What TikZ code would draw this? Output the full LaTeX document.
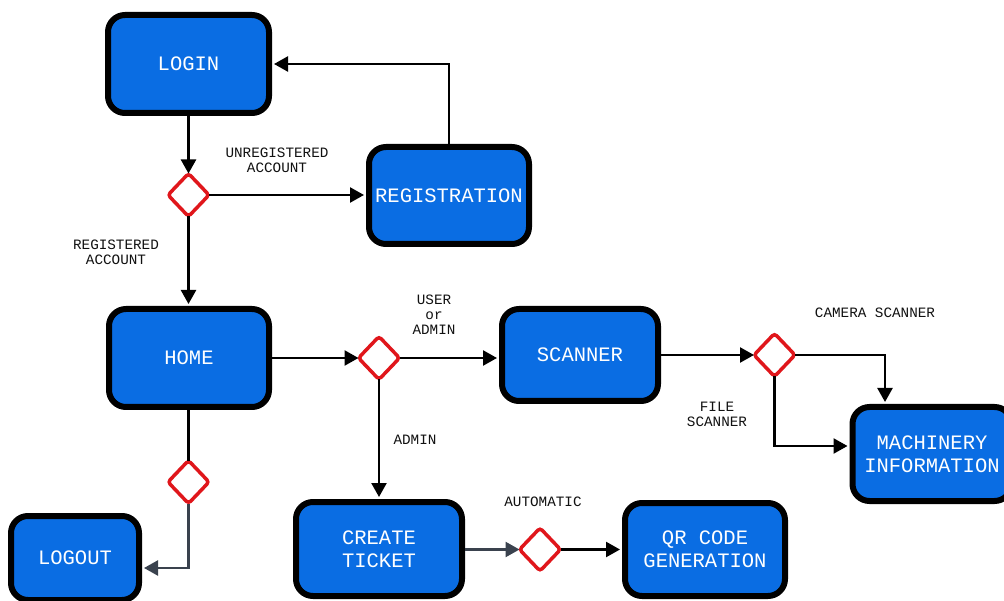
\documentclass[tikz,border=0pt]{standalone}
\usepackage{fontspec}
\setmonofont{Liberation Mono}
\usetikzlibrary{arrows.meta,shapes.geometric}
\definecolor{boxblue}{HTML}{0A6DE3}
\definecolor{gateRed}{HTML}{E0161B}
\definecolor{slate}{HTML}{3A424E}
\definecolor{ink}{HTML}{111111}
\tikzset{
  stepbox/.style={draw=black, line width=6pt, fill=boxblue, rounded corners=17pt,
    text=white, font=\ttfamily\fontsize{20.5}{23}\selectfont, align=center, inner sep=0pt},
  gate/.style={diamond, draw=gateRed, line width=3.5pt, fill=white, rounded corners=3pt,
    minimum width=41pt, minimum height=43pt, inner sep=0pt, outer sep=0pt},
  flow/.style={line width=2.4pt, -{Triangle[length=14pt,width=15pt]}},
  tobox/.style={flow, shorten >=2pt},
  plain/.style={line width=2.4pt},
  tag/.style={text=ink, font=\ttfamily\fontsize{14.3}{15}\selectfont, align=center, inner sep=0pt}
}
\begin{document}
\begin{tikzpicture}[x=1pt,y=-1pt]
\useasboundingbox[fill=white] (0,0) rectangle (1004,601);

% process boxes
\node[stepbox, minimum width=161pt, minimum height=98pt] (login) at (188.5,64) {LOGIN};
\node[stepbox, minimum width=160pt, minimum height=97pt] (reg) at (449,195.5) {REGISTRATION};
\node[stepbox, minimum width=160pt, minimum height=98pt] (home) at (189,358) {HOME};
\node[stepbox, minimum width=156pt, minimum height=92pt] (scanner) at (580,355) {SCANNER};
\node[stepbox, minimum width=159pt, minimum height=94pt] (mach) at (932,454) {MACHINERY\\INFORMATION};
\node[stepbox, minimum width=128pt, minimum height=84pt] (logout) at (75,558) {LOGOUT};
\node[stepbox, minimum width=166pt, minimum height=94pt] (ticket) at (379,549) {CREATE\\TICKET};
\node[stepbox, minimum width=160pt, minimum height=93pt] (qr) at (705,549.5) {QR CODE\\GENERATION};

% decision gates
\node[gate] (d1) at (188.5,195) {};
\node[gate] (d2) at (379,358) {};
\node[gate] (d3) at (774.5,355) {};
\node[gate] (d4) at (188.5,482) {};
\node[gate] (d5) at (540,549.5) {};

% connectors
\draw[flow] (login.south -| d1.north) -- (d1.north);
\draw[tobox] (d1.east) -- (d1.east -| reg.west);
\draw[tobox] (reg.north) |- (login.east);
\draw[tobox] (d1.south) -- (d1.south |- home.north);
\draw[flow] (home.east) -- (d2.west);
\draw[tobox] (d2.east) -- (d2.east -| scanner.west);
\draw[tobox] (d2.south) -- (d2.south |- ticket.north);
\draw[flow] (scanner.east |- d3.west) -- (d3.west);
\draw[tobox] (d3.east) -| ([xshift=-47pt]mach.north);
\draw[tobox] (d3.south) |- ([yshift=8pt]mach.west);
\draw[plain] (home.south -| d4.north) -- (d4.north);
\draw[tobox, draw=slate] (d4.south) |- ([yshift=-10pt]logout.east);
\draw[flow, draw=slate] (ticket.east |- d5.west) -- (d5.west);
\draw[tobox] (d5.east) -- (d5.east -| qr.west);

% branch labels
\node[tag] (tUnreg) at (277,160) {UNREGISTERED\\ACCOUNT};
\node[tag] (tReg) at (116,252) {REGISTERED\\ACCOUNT};
\node[tag] (tUser) at (434,315) {USER\\or\\ADMIN};
\node[tag] (tCam) at (875,313) {CAMERA SCANNER};
\node[tag] (tFile) at (717,414.5) {FILE\\SCANNER};
\node[tag] (tAdmin) at (415,440) {ADMIN};
\node[tag] (tAuto) at (543,502) {AUTOMATIC};
\end{tikzpicture}
\end{document}
